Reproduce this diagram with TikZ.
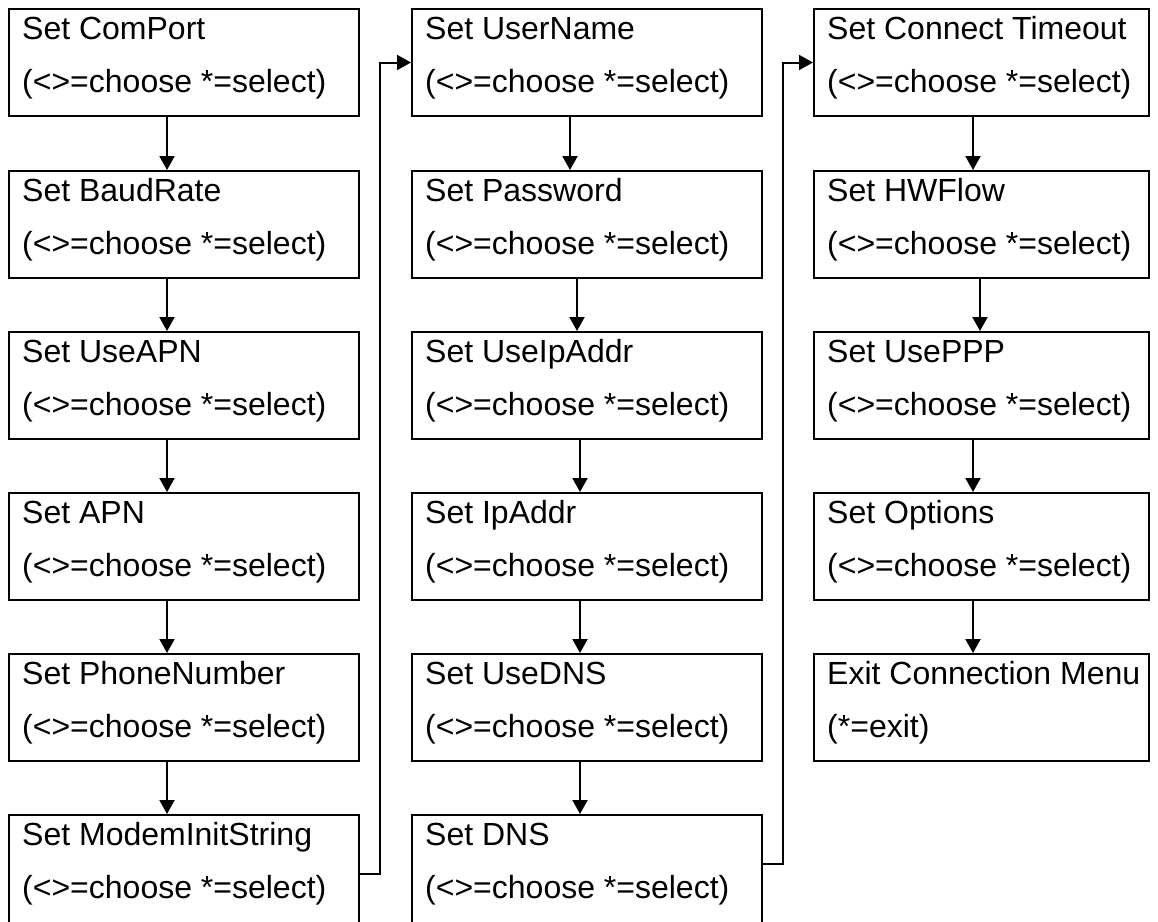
\documentclass[tikz,border=0pt]{standalone}
\usepackage{fontspec}
\setmainfont{Liberation Sans}
\usetikzlibrary{arrows.meta}

\tikzset{
  menubox/.style={draw=black, line width=2pt, fill=white, rectangle,
    anchor=north west, minimum height=107pt, inner sep=0pt},
  wide/.style={minimum width=350pt},
  narrow/.style={minimum width=335pt},
  tall/.style={minimum height=130pt},
  boxtext/.style={anchor=base west, inner sep=0pt,
    font=\fontsize{32}{36}\selectfont},
  arr/.style={draw=black, line width=2pt,
    -{Triangle[length=14pt,width=15pt]}},
  conn/.style={arr, rounded corners=0pt}
}

% #1 node name, #2 first line, #3 second line
\newcommand{\menutext}[3]{%
  \node[boxtext] at ([shift={(14,31)}]#1.north west) {#2};
  \node[boxtext] at ([shift={(14,84)}]#1.north west) {#3};
}
\newcommand{\sel}{(<>=choose *=select)}

\begin{document}
\begin{tikzpicture}[x=1pt, y=-1pt]
\useasboundingbox (0,0) rectangle (1158,921);
\clip (0,0) rectangle (1158,921);
\fill[white] (0,0) rectangle (1158,921);

% first column
\node[menubox, wide] (a1) at (8,8)   {};
\node[menubox, wide] (a2) at (8,170) {};
\node[menubox, wide] (a3) at (8,331) {};
\node[menubox, wide] (a4) at (8,492) {};
\node[menubox, wide] (a5) at (8,653) {};
\node[menubox, wide, tall] (a6) at (8,814) {};
\menutext{a1}{Set ComPort}{\sel}
\menutext{a2}{Set BaudRate}{\sel}
\menutext{a3}{Set UseAPN}{\sel}
\menutext{a4}{Set APN}{\sel}
\menutext{a5}{Set PhoneNumber}{\sel}
\menutext{a6}{Set ModemInitString}{\sel}

% second column
\node[menubox, wide] (b1) at (411,8)   {};
\node[menubox, wide] (b2) at (411,170) {};
\node[menubox, wide] (b3) at (411,331) {};
\node[menubox, wide] (b4) at (411,492) {};
\node[menubox, wide] (b5) at (411,653) {};
\node[menubox, wide, tall] (b6) at (411,814) {};
\menutext{b1}{Set UserName}{\sel}
\menutext{b2}{Set Password}{\sel}
\menutext{b3}{Set UseIpAddr}{\sel}
\menutext{b4}{Set IpAddr}{\sel}
\menutext{b5}{Set UseDNS}{\sel}
\menutext{b6}{Set DNS}{\sel}

% third column
\node[menubox, narrow] (c1) at (813,8)   {};
\node[menubox, narrow] (c2) at (813,170) {};
\node[menubox, narrow] (c3) at (813,331) {};
\node[menubox, narrow] (c4) at (813,492) {};
\node[menubox, narrow] (c5) at (813,653) {};
\menutext{c1}{Set Connect Timeout}{\sel}
\menutext{c2}{Set HWFlow}{\sel}
\menutext{c3}{Set UsePPP}{\sel}
\menutext{c4}{Set Options}{\sel}
\menutext{c5}{Exit Connection Menu}{(*=exit)}

% downward steps within each column
\foreach \u/\v in {a1/a2, a2/a3, a3/a4, a4/a5, a5/a6}
  \draw[arr] ([xshift=-17pt]\u.south) -- ([xshift=-17pt]\v.north);
\foreach \u/\v/\s in {b1/b2/-17, b2/b3/-10, b3/b4/-7, b4/b5/-7, b5/b6/-7}
  \draw[arr] ([xshift=\s pt]\u.south) -- ([xshift=\s pt]\v.north);
\foreach \u/\v/\s in {c1/c2/-8.5, c2/c3/-1.5, c3/c4/-8.5, c4/c5/-8.5}
  \draw[arr] ([xshift=\s pt]\u.south) -- ([xshift=\s pt]\v.north);

% jumps to the top of the next column
\draw[conn] ([yshift=-60pt]a6.north east) -- ++(20,0) |- (b1.west);
\draw[conn] ([yshift=-50pt]b6.north east) -- ++(20,0) |- (c1.west);
\end{tikzpicture}
\end{document}
